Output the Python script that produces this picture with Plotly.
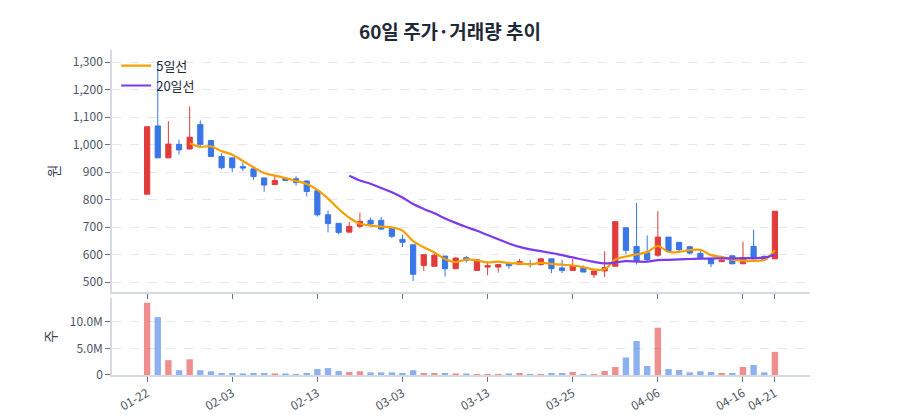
import plotly.graph_objects as go
import pandas as pd

dates = ["01-22","01-23","01-24","01-25","01-26","01-29","01-30","01-31","02-03",
         "02-04","02-05","02-06","02-07","02-10","02-11","02-12","02-13",
         "02-14","02-17","02-18","02-19","02-20","02-21","02-28","03-03",
         "03-04","03-05","03-06","03-07","03-10","03-11","03-12","03-13",
         "03-14","03-17","03-18","03-19","03-20","03-21","03-24","03-25",
         "03-26","03-27","03-28","03-31","04-01","04-02","04-03","04-06",
         "04-07","04-08","04-09","04-10","04-11","04-14","04-15","04-16",
         "04-17","04-18","04-21"]

open_ = [820,1068,952,1001,984,1073,1015,957,952,920,912,879,855,877,876,
         868,832,745,714,682,703,725,725,697,656,636,561,558,595,549,
         589,543,555,555,567,565,568,564,585,552,543,553,527,541,558,
         698,630,607,598,664,645,629,605,587,575,596,567,630,594,585]
close = [1065,952,1002,981,1027,1001,957,916,916,915,884,853,870,870,862,
         830,745,713,681,703,721,712,693,667,645,529,600,598,549,588,
         580,582,560,564,560,575,566,585,549,543,561,537,541,553,720,
         616,576,582,664,612,618,606,589,567,581,567,588,585,582,758]
high = [1065,1300,1085,1018,1139,1088,1015,969,952,936,912,879,887,880,885,
        870,832,761,714,719,752,735,737,697,673,636,600,605,595,590,
        596,585,570,564,570,584,580,587,585,582,584,561,541,612,720,
        698,788,670,758,664,645,629,613,587,583,596,647,691,597,758]
low = [820,952,952,964,984,989,955,911,900,904,872,829,855,868,851,
       812,739,681,674,682,696,708,690,660,628,504,541,558,521,549,
       571,543,525,535,549,563,553,560,533,533,543,537,516,519,558,
       601,564,572,592,606,612,601,582,555,573,565,567,585,582,585]
volume_m = [13.6,10.9,2.8,0.9,2.95,0.9,0.7,0.38,0.38,0.3,0.38,0.38,0.3,0.3,0.2,
            0.38,1.13,1.3,0.75,0.57,0.7,0.5,0.5,0.5,0.38,0.9,0.38,0.38,0.38,0.3,
            0.3,0.2,0.2,0.2,0.3,0.38,0.2,0.2,0.38,0.38,0.57,0.2,0.2,0.75,1.5,
            3.3,6.4,1.7,8.9,1.13,0.95,0.5,0.7,0.57,0.38,0.38,1.5,1.9,0.5,4.35]

price_ticks = [500,600,700,800,900,1000,1100,1200,1300]
vol_tickvals = [0, 5e6, 10e6]
vol_ticktext = ["0", "5.0M", "10.0M"]
xtick_labels = ["01-22","02-03","02-13","03-03","03-13","03-25","04-06","04-16","04-21"]

RED = "#e03131"
BLUE = "#2f6fe6"
ORANGE = "#f59f00"
PURPLE = "#7c3aed"
FONT = "Noto Sans CJK KR"

volume = [v * 1e6 for v in volume_m]
ma5 = pd.Series(close).rolling(5).mean()
ma20 = pd.Series(close).rolling(20).mean()
vol_colors = [RED if c >= o else BLUE for o, c in zip(open_, close)]

fig = go.Figure()
fig.add_trace(go.Candlestick(
    x=dates, open=open_, high=high, low=low, close=close,
    increasing=dict(line=dict(color=RED, width=1), fillcolor=RED),
    decreasing=dict(line=dict(color=BLUE, width=1), fillcolor=BLUE),
    whiskerwidth=0, showlegend=False, xaxis="x", yaxis="y", opacity=0.95))
fig.add_trace(go.Scatter(x=dates, y=ma5, mode="lines", name="5일선",
                         line=dict(color=ORANGE, width=2.2, shape="spline"),
                         xaxis="x", yaxis="y"))
fig.add_trace(go.Scatter(x=dates, y=ma20, mode="lines", name="20일선",
                         line=dict(color=PURPLE, width=2.2, shape="spline"),
                         xaxis="x", yaxis="y"))
fig.add_trace(go.Bar(x=dates, y=volume, marker=dict(color=vol_colors, opacity=0.55,
                     line=dict(width=0)), width=0.6, showlegend=False,
                     xaxis="x2", yaxis="y2"))

axis_common = dict(showline=True, linecolor="#d5d9e0", linewidth=1.5,
                   ticks="outside", ticklen=5, tickcolor="#6b7280",
                   tickfont=dict(size=12, color="#4b5563"), automargin=False)

fig.update_layout(
    width=900, height=420,
    margin=dict(l=112, r=90, t=50, b=45),
    paper_bgcolor="white", plot_bgcolor="white",
    font=dict(family=FONT, color="#374151"),
    title=dict(text="<b>60일 주가·거래량 추이</b>", x=0.5, xanchor="center",
               y=0.922, yanchor="middle", font=dict(size=19, color="#1f2937")),
    showlegend=True,
    legend=dict(x=0.006, y=0.998, xanchor="left", yanchor="top",
                bgcolor="rgba(0,0,0,0)", font=dict(size=13, color="#1f2937"),
                itemwidth=30, tracegroupgap=2),
    xaxis=dict(domain=[0, 1], anchor="y", type="category", categoryorder="array",
               categoryarray=dates, range=[-3.3, 62.3], rangeslider=dict(visible=False),
               tickvals=xtick_labels, showticklabels=False, showgrid=False,
               **axis_common),
    yaxis=dict(domain=[0.255, 1], anchor="x", range=[464, 1344],
               tickvals=price_ticks, tickformat=",d", showgrid=True,
               gridcolor="#e5e7eb", griddash="dash", zeroline=False,
               title=dict(text="원", standoff=10, font=dict(size=14)),
               **axis_common),
    xaxis2=dict(domain=[0, 1], anchor="y2", type="category", categoryorder="array",
                categoryarray=dates, range=[-3.3, 62.3], matches="x",
                tickvals=xtick_labels, ticktext=xtick_labels, tickangle=-30,
                showgrid=False, **axis_common),
    yaxis2=dict(domain=[0, 0.237], anchor="x2", range=[0, 14.5e6],
                tickvals=vol_tickvals, ticktext=vol_ticktext, showgrid=True,
                gridcolor="#e5e7eb", griddash="dash", zeroline=False,
                title=dict(text="주", standoff=10, font=dict(size=14)),
                **axis_common),
    bargap=0.4,
)

fig.write_html("out.html")
